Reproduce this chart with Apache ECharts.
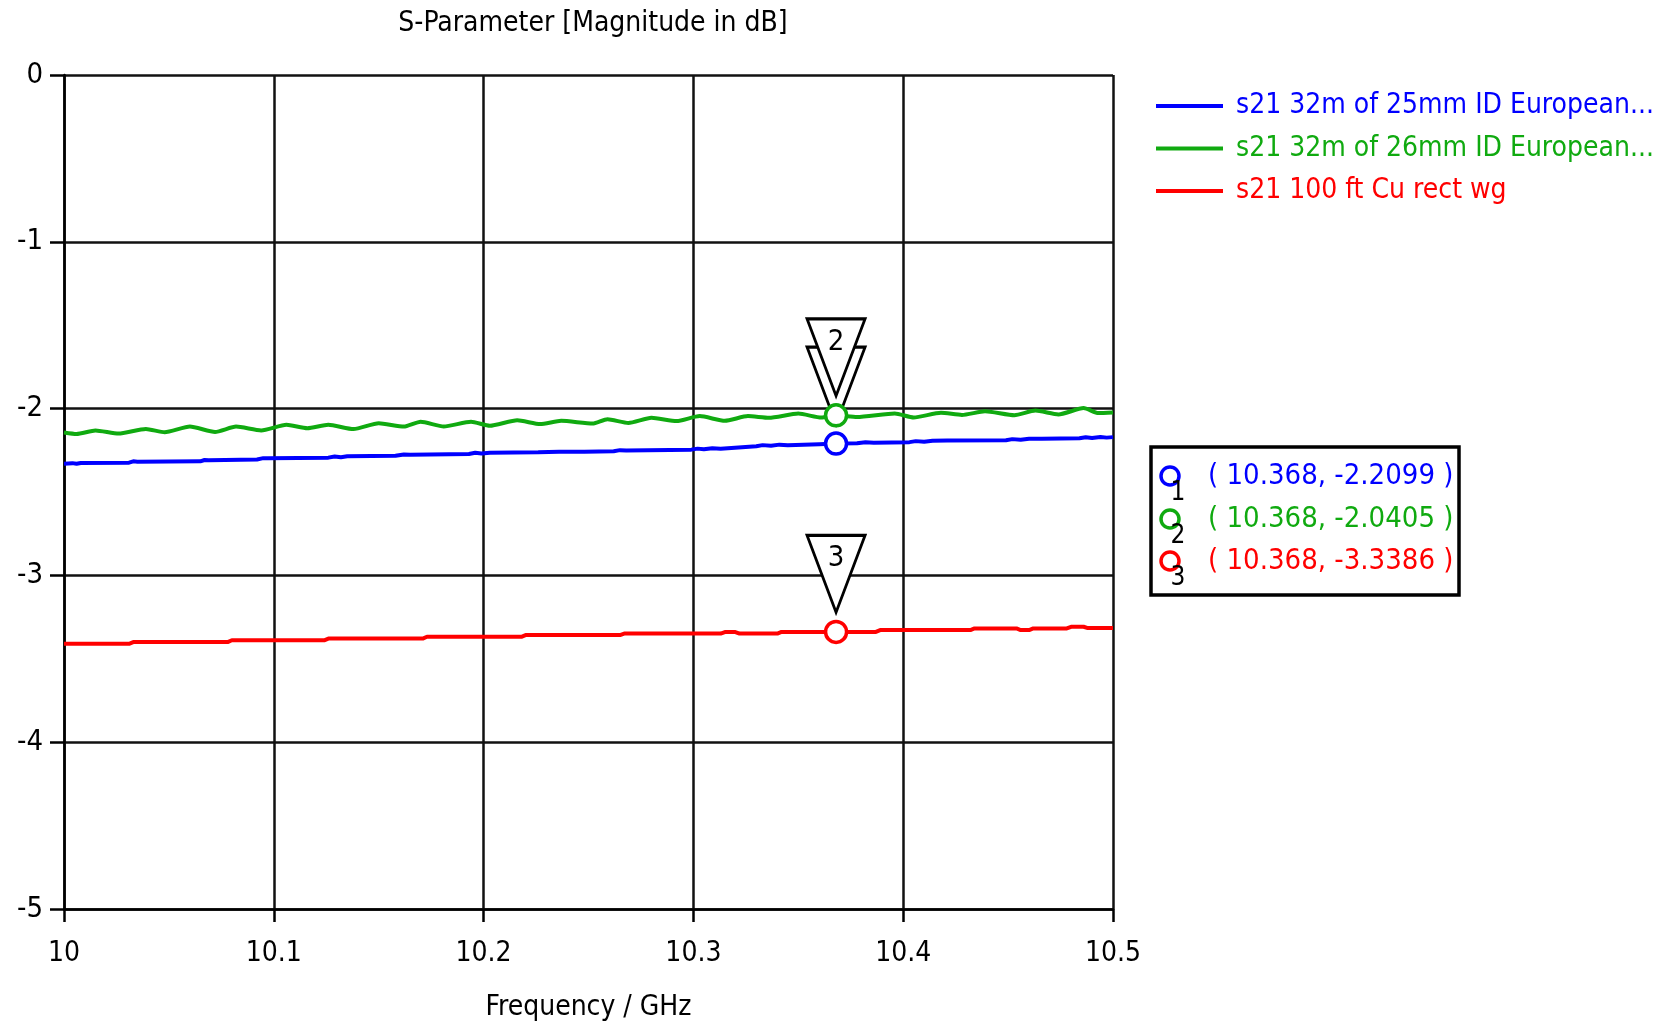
<!DOCTYPE html>
<html>
<head>
<meta charset="utf-8">
<script src="https://cdn.jsdelivr.net/npm/echarts@6/dist/echarts.min.js"></script>
<style>
html,body{margin:0;padding:0;background:#fff;}
#chart{width:1664px;height:1024px;}
</style>
</head>
<body>
<div id="chart"></div>
<script>
// ---- data ----
const titleText = 'S-Parameter [Magnitude in dB]';
const xAxisName = 'Frequency / GHz';
const seriesNames = ['s21 32m of 25mm ID European...', 's21 32m of 26mm ID European...', 's21 100 ft Cu rect wg'];
const seriesColors = ['#0000ff', '#10aa10', '#ff0000'];

const blueFreq = [10.000,10.004,10.006,10.008,10.031,10.033,10.035,10.065,10.067,10.069,10.092,10.095,10.097,10.126,10.129,10.132,10.135,10.158,10.162,10.165,10.193,10.196,10.199,10.203,10.226,10.236,10.248,10.262,10.265,10.268,10.299,10.302,10.305,10.309,10.313,10.330,10.333,10.337,10.341,10.345,10.360,10.368,10.378,10.382,10.386,10.403,10.406,10.410,10.414,10.421,10.449,10.452,10.456,10.460,10.466,10.484,10.487,10.490,10.494,10.497,10.500];
const blueDb = [-2.330,-2.327,-2.331,-2.326,-2.324,-2.316,-2.318,-2.316,-2.308,-2.309,-2.305,-2.297,-2.298,-2.294,-2.287,-2.292,-2.286,-2.283,-2.275,-2.277,-2.272,-2.265,-2.269,-2.264,-2.261,-2.259,-2.259,-2.256,-2.249,-2.251,-2.246,-2.240,-2.244,-2.238,-2.241,-2.226,-2.219,-2.223,-2.216,-2.219,-2.213,-2.2099,-2.208,-2.202,-2.205,-2.201,-2.195,-2.199,-2.193,-2.191,-2.190,-2.183,-2.187,-2.181,-2.181,-2.178,-2.172,-2.176,-2.170,-2.174,-2.171];

const greenFreq = [10.000,10.006,10.015,10.026,10.039,10.048,10.060,10.072,10.082,10.094,10.106,10.116,10.126,10.138,10.150,10.162,10.170,10.181,10.194,10.203,10.216,10.227,10.237,10.252,10.259,10.269,10.280,10.292,10.303,10.315,10.326,10.336,10.350,10.361,10.368,10.378,10.396,10.405,10.418,10.428,10.439,10.453,10.463,10.474,10.486,10.493,10.500];
const greenDb = [-2.143,-2.152,-2.131,-2.150,-2.122,-2.142,-2.108,-2.140,-2.108,-2.131,-2.097,-2.118,-2.097,-2.123,-2.088,-2.108,-2.079,-2.107,-2.079,-2.103,-2.070,-2.093,-2.073,-2.090,-2.064,-2.086,-2.055,-2.075,-2.045,-2.073,-2.045,-2.055,-2.030,-2.054,-2.0405,-2.050,-2.029,-2.053,-2.025,-2.038,-2.016,-2.040,-2.012,-2.035,-1.997,-2.027,-2.023];

const redFreq = [10.000,10.031,10.033,10.078,10.080,10.124,10.126,10.171,10.173,10.218,10.220,10.265,10.267,10.313,10.315,10.320,10.322,10.340,10.342,10.387,10.389,10.432,10.434,10.454,10.456,10.460,10.462,10.478,10.480,10.486,10.488,10.500];
const redDb = [-3.410,-3.410,-3.400,-3.400,-3.389,-3.389,-3.379,-3.379,-3.368,-3.368,-3.358,-3.358,-3.349,-3.349,-3.340,-3.340,-3.349,-3.349,-3.3386,-3.3386,-3.328,-3.328,-3.318,-3.318,-3.328,-3.328,-3.318,-3.318,-3.308,-3.308,-3.316,-3.316];

const markerIds = ['1', '2', '3'];
const markerFreq = 10.368;
const markerDb = [-2.2099, -2.0405, -3.3386];

const yTicks = [-5, -4, -3, -2, -1, 0];
const xTicks = [10, 10.1, 10.2, 10.3, 10.4, 10.5];

// ---- chart ----
const FONT = "'DejaVu Sans Condensed', 'DejaVu Sans', sans-serif";
const zip = (a, b) => a.map((v, i) => [v, b[i]]);
const chart = echarts.init(document.getElementById('chart'), null, { renderer: 'canvas' });

const triPath = 'path://M0,0L58,0L29,77Z';
const triOffset = [0, -58];

const tableX = 1151, tableY = 447, rowYs = [476, 519, 561];
const tableGraphics = [
  { type: 'rect', shape: { x: tableX, y: tableY, width: 308, height: 148 },
    style: { fill: '#fff', stroke: '#000', lineWidth: 3.5 }, z: 10 }
];
markerDb.forEach((v, i) => {
  tableGraphics.push({ type: 'circle', shape: { cx: 1170, cy: rowYs[i], r: 9 },
    style: { fill: '#fff', stroke: seriesColors[i], lineWidth: 3.5 }, z: 11 });
  tableGraphics.push({ type: 'text', x: 1178, y: rowYs[i] + 17,
    style: { text: markerIds[i], fill: '#000', font: '26px ' + FONT, textAlign: 'center', textVerticalAlign: 'middle' }, z: 12 });
  tableGraphics.push({ type: 'text', x: 1208, y: rowYs[i],
    style: { text: '( ' + markerFreq.toFixed(3) + ', ' + v.toFixed(4) + ' )', fill: seriesColors[i],
      font: '29px ' + FONT, textAlign: 'left', textVerticalAlign: 'middle' }, z: 12 });
});

const option = {
  animation: false,
  backgroundColor: '#fff',
  title: {
    text: titleText, left: 588, top: 5, textAlign: 'center',
    textStyle: { fontFamily: FONT, fontSize: 28, fontWeight: 'normal', color: '#000' }
  },
  legend: {
    orient: 'vertical', left: 1151, top: 86, itemWidth: 67, itemHeight: 4, itemGap: 12.5,
    data: seriesNames.map((n, i) => ({ name: n, icon: 'rect', textStyle: { color: seriesColors[i] } })),
    textStyle: { fontFamily: FONT, fontSize: 28, lineHeight: 30, padding: [0, 0, 0, 8] },
    selectedMode: false
  },
  grid: { left: 64, right: 551, top: 75, bottom: 115, containLabel: false, outerBoundsMode: 'none' },
  xAxis: {
    type: 'value', min: xTicks[0], max: xTicks[xTicks.length - 1], interval: 0.1,
    name: xAxisName, nameLocation: 'middle', nameGap: 85,
    nameTextStyle: { fontFamily: FONT, fontSize: 28, color: '#000' },
    axisLine: { show: true, onZero: false, lineStyle: { color: '#000', width: 2.5 } },
    axisTick: { show: true, inside: false, length: 13, lineStyle: { color: '#000', width: 2.5 } },
    axisLabel: { fontFamily: FONT, fontSize: 28, color: '#000', margin: 31,
      formatter: v => String(Math.round(v * 10) / 10) },
    splitLine: { show: true, lineStyle: { color: '#111', width: 2.5 } }
  },
  yAxis: {
    type: 'value', min: yTicks[0], max: yTicks[yTicks.length - 1], interval: 1,
    axisLine: { show: true, onZero: false, lineStyle: { color: '#000', width: 2.5 } },
    axisTick: { show: true, inside: false, length: 14, lineStyle: { color: '#000', width: 2.5 } },
    axisLabel: { fontFamily: FONT, fontSize: 29, color: '#000', margin: 21 },
    splitLine: { show: true, lineStyle: { color: '#111', width: 2.5 } }
  },
  graphic: tableGraphics,
  series: [
    { name: seriesNames[0], type: 'line', data: zip(blueFreq, blueDb), showSymbol: false, symbol: 'none',
      lineStyle: { color: seriesColors[0], width: 4 }, itemStyle: { color: seriesColors[0] }, z: 2 },
    { name: seriesNames[1], type: 'line', data: zip(greenFreq, greenDb), showSymbol: false, symbol: 'none', smooth: 0.2,
      lineStyle: { color: seriesColors[1], width: 4 }, itemStyle: { color: seriesColors[1] }, z: 2 },
    { name: seriesNames[2], type: 'line', data: zip(redFreq, redDb), showSymbol: false, symbol: 'none',
      lineStyle: { color: seriesColors[2], width: 4 }, itemStyle: { color: seriesColors[2] }, z: 2 },
    { name: 'marker-tri-1', type: 'scatter', z: 3, silent: true,
      data: [[markerFreq, markerDb[0]]], symbol: triPath, symbolSize: [58, 77], symbolOffset: triOffset,
      itemStyle: { color: '#fff', borderColor: '#000', borderWidth: 3, opacity: 1 } },
    { name: 'marker-tri-23', type: 'scatter', z: 4, silent: true,
      data: [[markerFreq, markerDb[1]], [markerFreq, markerDb[2]]], symbol: triPath, symbolSize: [58, 77], symbolOffset: triOffset,
      itemStyle: { color: '#fff', borderColor: '#000', borderWidth: 3, opacity: 1 },
      label: { show: true, position: 'inside', offset: [0, -15], formatter: p => markerIds[p.dataIndex + 1],
        fontFamily: FONT, fontSize: 29, color: '#000' } },
    { name: 'marker-circles', type: 'scatter', z: 5, silent: true,
      data: markerDb.map((v, i) => ({ value: [markerFreq, v], itemStyle: { borderColor: seriesColors[i] } })),
      symbol: 'circle', symbolSize: 21,
      itemStyle: { color: '#fff', borderWidth: 3.5, opacity: 1 } }
  ]
};
chart.setOption(option);
</script>
</body>
</html>
